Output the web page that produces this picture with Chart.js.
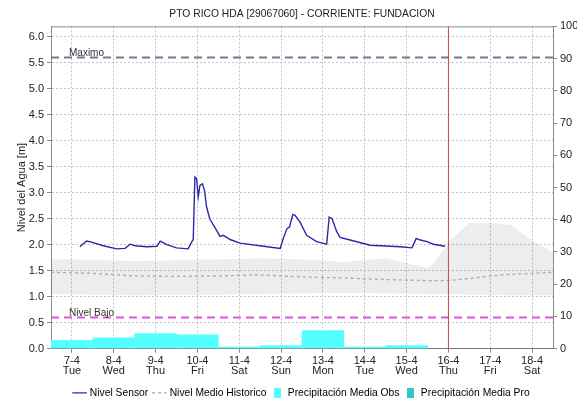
<!DOCTYPE html>
<html>
<head>
<meta charset="utf-8">
<title>PTO RICO HDA - Nivel</title>
<script src="https://cdn.jsdelivr.net/npm/chart.js@4.4.0/dist/chart.umd.min.js"></script>
<style>
  html, body { margin: 0; padding: 0; background: #fff; }
  #wrap { width: 577px; height: 400px; }
</style>
</head>
<body>
<div id="wrap"><canvas id="nivelChart"></canvas></div>
<script>
// dias del eje x (abril)
const dias = [7, 8, 9, 10, 11, 12, 13, 14, 15, 16, 17, 18];
const diasLabel = ['7-4', '8-4', '9-4', '10-4', '11-4', '12-4', '13-4', '14-4', '15-4', '16-4', '17-4', '18-4'];
const diasSemana = ['Tue', 'Wed', 'Thu', 'Fri', 'Sat', 'Sun', 'Mon', 'Tue', 'Wed', 'Thu', 'Fri', 'Sat'];

// ticks de los ejes
const nivelTicks = [0, 0.5, 1, 1.5, 2, 2.5, 3, 3.5, 4, 4.5, 5, 5.5, 6];
const precipTicks = [0, 10, 20, 30, 40, 50, 60, 70, 80, 90, 100];

// nivel del sensor [m] (tiempo en dias de abril)
const sensorT = [7.19, 7.35, 7.47, 7.75, 8.07, 8.27, 8.39, 8.51, 8.79, 9.03, 9.11, 9.27, 9.50, 9.78, 9.86, 9.90,
  9.94, 9.98, 10.02, 10.06, 10.12, 10.17, 10.22, 10.30, 10.42, 10.54, 10.62, 10.78, 11.02, 11.58, 11.98,
  12.06, 12.14, 12.20, 12.28, 12.33, 12.45, 12.61, 12.85, 13.09, 13.15, 13.22, 13.33, 13.41, 13.65, 14.13,
  14.85, 15.13, 15.23, 15.33, 15.49, 15.64, 15.92];
const sensorNivel = [1.96, 2.07, 2.05, 1.98, 1.92, 1.93, 2.01, 1.98, 1.96, 1.97, 2.07, 2.00, 1.94, 1.92, 2.05, 2.10,
  3.30, 3.27, 2.92, 3.14, 3.17, 3.04, 2.72, 2.49, 2.33, 2.16, 2.18, 2.10, 2.03, 1.97, 1.93,
  2.14, 2.31, 2.34, 2.58, 2.57, 2.44, 2.18, 2.06, 2.01, 2.53, 2.50, 2.25, 2.14, 2.09, 1.99,
  1.96, 1.94, 2.12, 2.09, 2.06, 2.01, 1.97];

// historico: medio y banda min/max
const histT = [6.5, 7.5, 8.5, 9.5, 10.5, 11.5, 12.5, 13.5, 14.5, 15.5, 15.65, 16.0, 16.5, 17.0, 17.5, 18.0, 18.5];
const histMedio = [1.47, 1.45, 1.40, 1.39, 1.40, 1.42, 1.38, 1.36, 1.33, 1.31, 1.31, 1.31, 1.35, 1.40, 1.43, 1.45, 1.47];
const histMax = [1.72, 1.71, 1.68, 1.70, 1.72, 1.74, 1.72, 1.67, 1.74, 1.55, 1.65, 2.05, 2.42, 2.42, 2.38, 2.08, 1.85];
const histMin = [1.05, 1.04, 1.03, 1.04, 1.04, 1.05, 1.06, 1.07, 1.06, 1.05, 1.05, 1.05, 1.04, 1.04, 1.03, 1.03, 1.03];

// precipitacion diaria [mm]
const precipDias = [7, 8, 9, 10, 11, 12, 13, 14, 15];
const precipObs = [2.6, 3.4, 4.7, 4.3, 0.5, 1.0, 5.6, 0.5, 1.0];
const precipPro = [];

// umbrales y dia actual
const nivelMaximo = 5.6;
const nivelBajoVal = 0.6;
const diaActual = 16;

const X_MIN = 6.5, X_MAX = 18.5;

const colSensor = '#2a2aa6';
const colMedio = '#a9a9a9';
const colObs = '#55ffff';
const colPro = '#33c6c6';

Chart.defaults.font.family = '"Liberation Sans", Arial, sans-serif';
Chart.defaults.font.size = 11;
Chart.defaults.color = '#222';

const xy = (xs, ys) => xs.map((x, i) => ({ x: x, y: ys[i] }));
const flat = (v) => [{ x: X_MIN, y: v }, { x: X_MAX, y: v }];

// cuadrito para la leyenda de barras
function legendBox(color) {
  const c = document.createElement('canvas');
  c.width = 7; c.height = 10;
  const g = c.getContext('2d');
  g.fillStyle = color;
  g.fillRect(0, 0, 7, 10);
  return c;
}

// textos "Maximo" / "Nivel Bajo" y borde superior
const extras = {
  id: 'extras',
  afterDatasetsDraw(chart) {
    const { ctx, chartArea, scales } = chart;
    ctx.save();
    ctx.strokeStyle = '#8a8a8a';
    ctx.lineWidth = 1;
    ctx.beginPath();
    ctx.moveTo(chartArea.left, chartArea.top + 0.5);
    ctx.lineTo(chartArea.right, chartArea.top + 0.5);
    ctx.stroke();
    ctx.fillStyle = '#333';
    ctx.font = '10px "Liberation Sans", Arial, sans-serif';
    ctx.textBaseline = 'bottom';
    const x0 = scales.x.getPixelForValue(6.93);
    ctx.fillText('Maximo', x0, scales.y.getPixelForValue(nivelMaximo) + 1);
    ctx.fillText('Nivel Bajo', x0, scales.y.getPixelForValue(nivelBajoVal) + 1);
    ctx.restore();
  }
};

new Chart(document.getElementById('nivelChart'), {
  type: 'line',
  data: {
    datasets: [
      {
        label: 'Nivel Sensor',
        data: xy(sensorT, sensorNivel),
        borderColor: colSensor,
        borderWidth: 1.4,
        pointRadius: 0,
        tension: 0,
        order: 1
      },
      {
        label: 'Nivel Medio Historico',
        data: xy(histT, histMedio),
        borderColor: colMedio,
        borderWidth: 1.3,
        borderDash: [3, 3],
        pointRadius: 0,
        order: 3
      },
      {
        label: 'hist max',
        data: xy(histT, histMax),
        borderWidth: 0,
        pointRadius: 0,
        fill: '+1',
        backgroundColor: 'rgba(0,0,0,0.07)',
        order: 6
      },
      {
        label: 'hist min',
        data: xy(histT, histMin),
        borderWidth: 0,
        pointRadius: 0,
        order: 6
      },
      {
        type: 'bar',
        label: 'Precipitación Media Obs',
        data: xy(precipDias, precipObs),
        yAxisID: 'y1',
        backgroundColor: colObs,
        borderWidth: 0,
        barPercentage: 1,
        categoryPercentage: 1,
        grouped: false,
        order: 5
      },
      {
        type: 'bar',
        label: 'Precipitación Media Pro',
        data: precipPro,
        yAxisID: 'y1',
        backgroundColor: colPro,
        borderWidth: 0,
        barPercentage: 1,
        categoryPercentage: 1,
        grouped: false,
        order: 5
      },
      {
        label: 'Maximo',
        data: flat(nivelMaximo),
        borderColor: '#6c7a99',
        borderWidth: 2,
        borderDash: [8, 5],
        pointRadius: 0,
        order: 2
      },
      {
        label: 'Nivel Bajo',
        data: flat(nivelBajoVal),
        borderColor: '#de55de',
        borderWidth: 2,
        borderDash: [8, 5],
        pointRadius: 0,
        order: 2
      },
      {
        label: 'Ahora',
        data: [{ x: diaActual, y: 0 }, { x: diaActual, y: 6.2 }],
        borderColor: '#c84646',
        borderWidth: 1,
        pointRadius: 0,
        order: 0
      }
    ]
  },
  options: {
    responsive: true,
    maintainAspectRatio: false,
    animation: false,
    layout: { padding: { left: 0, right: 0, top: 0, bottom: -8 } },
    scales: {
      x: {
        type: 'linear',
        min: X_MIN,
        max: X_MAX,
        offset: false,
        afterBuildTicks: (s) => { s.ticks = dias.map(v => ({ value: v })); },
        afterFit: (s) => { s.height = 33; },
        ticks: {
          autoSkip: false,
          maxRotation: 0,
          padding: 3,
          font: { size: 11, lineHeight: 0.92 },
          callback: (v) => {
            const i = dias.indexOf(v);
            return [diasLabel[i], diasSemana[i]];
          }
        },
        grid: { offset: false, color: '#c4c4c4', tickLength: 4, tickColor: '#888' },
        border: { color: '#777', dash: [2, 2] }
      },
      y: {
        position: 'left',
        min: 0,
        max: 6.2,
        afterBuildTicks: (s) => { s.ticks = nivelTicks.map(v => ({ value: v })); },
        afterFit: (s) => { s.width = 51; },
        ticks: { padding: 3, callback: (v) => v.toFixed(1) },
        title: { display: true, text: 'Nivel del Agua [m]', padding: { top: 15, bottom: 0 } },
        grid: { color: '#c4c4c4', tickLength: 4, tickColor: '#888' },
        border: { color: '#8a8a8a', dash: [2, 2] }
      },
      y1: {
        position: 'right',
        min: 0,
        max: 100,
        afterBuildTicks: (s) => { s.ticks = precipTicks.map(v => ({ value: v })); },
        afterFit: (s) => { s.width = 24; },
        ticks: { padding: 3 },
        grid: { drawOnChartArea: false, tickLength: 4, tickColor: '#888' },
        border: { color: '#8a8a8a' }
      }
    },
    plugins: {
      title: {
        display: true,
        fullSize: false,
        text: 'PTO RICO HDA [29067060] - CORRIENTE: FUNDACION',
        font: { size: 10.3, weight: 'normal' },
        color: '#222',
        padding: { top: 8, bottom: 6 }
      },
      legend: {
        position: 'bottom',
        fullSize: false,
        labels: {
          usePointStyle: true,
          boxHeight: 11,
          padding: 6,
          color: '#333',
          font: { size: 10.3 },
          generateLabels: () => [
            { text: 'Nivel Sensor', pointStyle: 'line', strokeStyle: colSensor, fillStyle: colSensor, lineWidth: 1.4, datasetIndex: 0 },
            { text: 'Nivel Medio Historico', pointStyle: 'line', strokeStyle: colMedio, fillStyle: colMedio, lineWidth: 1.3, lineDash: [3, 3], datasetIndex: 1 },
            { text: 'Precipitación Media Obs', pointStyle: legendBox(colObs), fillStyle: colObs, lineWidth: 0, datasetIndex: 4 },
            { text: 'Precipitación Media Pro', pointStyle: legendBox(colPro), fillStyle: colPro, lineWidth: 0, datasetIndex: 5 }
          ]
        }
      },
      tooltip: { enabled: false }
    }
  },
  plugins: [extras]
});
</script>
</body>
</html>
